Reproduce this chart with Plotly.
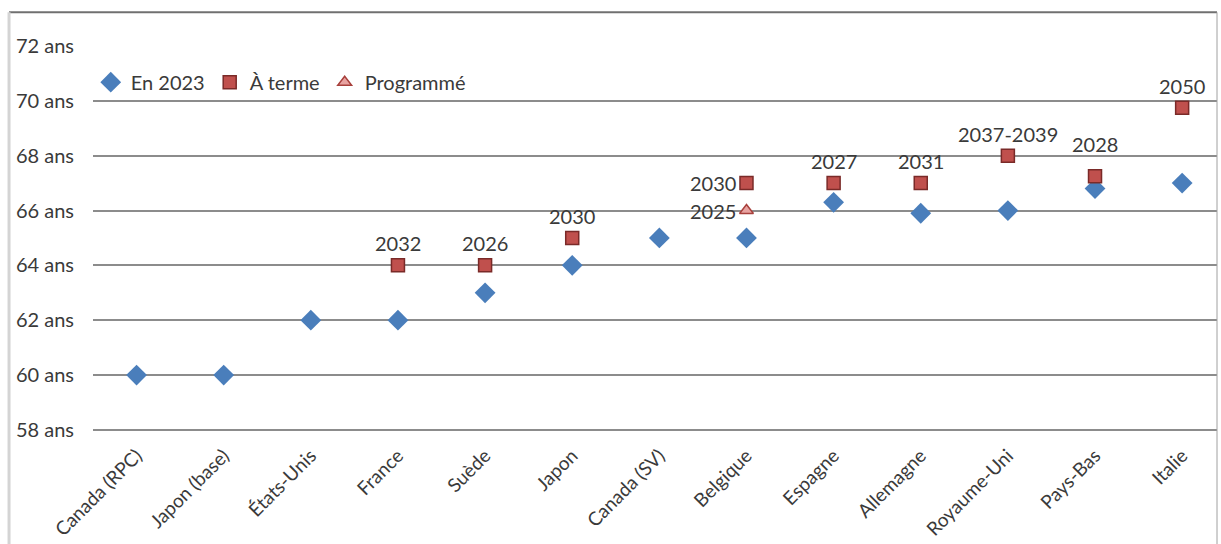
import plotly.graph_objects as go

# Âge légal de départ à la retraite par pays
pays = ["Canada (RPC)", "Japon (base)", "États-Unis", "France", "Suède", "Japon",
        "Canada (SV)", "Belgique", "Espagne", "Allemagne", "Royaume-Uni", "Pays-Bas", "Italie"]
age_2023 = [60, 60, 62, 62, 63, 64, 65, 65, 66.3, 65.9, 66, 66.8, 67]

pays_terme = ["France", "Suède", "Japon", "Belgique", "Espagne", "Allemagne",
              "Royaume-Uni", "Pays-Bas", "Italie"]
age_terme = [64, 64, 65, 67, 67, 67, 68, 67.25, 69.75]
annee_terme = ["2032", "2026", "2030", "2030", "2027", "2031", "2037-2039", "2028", "2050"]

pays_prog = ["Belgique"]
age_prog = [66]
annee_prog = ["2025"]

y_ticks = [58, 60, 62, 64, 66, 68, 70, 72]

FONT = "Lato, 'Open Sans', sans-serif"
TXT = "#3a3a3a"

fig = go.Figure()
fig.add_trace(go.Scatter(
    x=pays, y=age_2023, mode="markers", name="En 2023",
    marker=dict(symbol="diamond", size=16, color="#4a7ebb", line=dict(width=0)),
))
fig.add_trace(go.Scatter(
    x=pays_terme, y=age_terme, mode="markers", name="À terme",
    marker=dict(symbol="square", size=13, color="#c0504d",
                line=dict(width=1.5, color="#7a2a28")),
))
fig.add_trace(go.Scatter(
    x=pays_prog, y=age_prog, mode="markers", name="Programmé",
    marker=dict(symbol="triangle-up", size=12, color="#e8a3a1",
                line=dict(width=1.5, color="#a8403c")),
))

# Étiquettes des années (au-dessus par défaut, à gauche pour la Belgique)
annotations = []
for p, v, t in zip(pays_terme, age_terme, annee_terme):
    if p == "Belgique":
        annotations.append(dict(x=p, y=v, text=t, xanchor="right", yanchor="middle",
                                xshift=-8, yshift=0))
    else:
        annotations.append(dict(x=p, y=v, text=t, xanchor="center", yanchor="middle",
                                yshift=32 if p == "Pays-Bas" else 22))
for p, v, t in zip(pays_prog, age_prog, annee_prog):
    annotations.append(dict(x=p, y=v, text=t, xanchor="right", yanchor="middle",
                            xshift=-8, yshift=0))
for a in annotations:
    a.update(showarrow=False, font=dict(family=FONT, size=20, color=TXT))

# Cadre extérieur
shapes = [
    dict(type="line", xref="paper", yref="paper", x0=-0.0747, x1=1.0, y0=1.0875, y1=1.0875,
         line=dict(color="#707070", width=2)),
    dict(type="line", xref="paper", yref="paper", x0=-0.0747, x1=-0.0747, y0=1.0875, y1=-0.3,
         line=dict(color="#d4d4d4", width=3)),
    dict(type="line", xref="paper", yref="paper", x0=1.0, x1=1.0, y0=1.0875, y1=-0.3,
         line=dict(color="#a0a0a0", width=1)),
]

fig.update_layout(
    width=1221, height=544, autosize=False,
    margin=dict(l=93, r=4, t=46, b=113),
    paper_bgcolor="white", plot_bgcolor="white",
    font=dict(family=FONT, color=TXT),
    showlegend=True,
    legend=dict(orientation="h", x=-0.002, y=0.906, xanchor="left", yanchor="middle",
                font=dict(family=FONT, size=20, color=TXT),
                bgcolor="rgba(0,0,0,0)", itemwidth=30, tracegroupgap=0),
    annotations=annotations,
    shapes=shapes,
)
fig.update_xaxes(
    type="category", categoryorder="array", categoryarray=pays,
    range=[-0.5, 12.4], showgrid=False, showline=False, zeroline=False,
    tickangle=-45, tickfont=dict(family=FONT, size=19, color=TXT), ticks="",
    ticklabelstandoff=9, automargin=False,
)
fig.update_yaxes(
    range=[57.96, 72], tickvals=y_ticks, ticktext=[f"{v} ans" for v in y_ticks],
    showgrid=True, gridcolor="#8c8c8c", gridwidth=2, zeroline=False,
    showline=False, ticks="", ticklabelstandoff=18, automargin=False,
    tickfont=dict(family=FONT, size=20, color=TXT),
)

fig.write_html("out.html")
